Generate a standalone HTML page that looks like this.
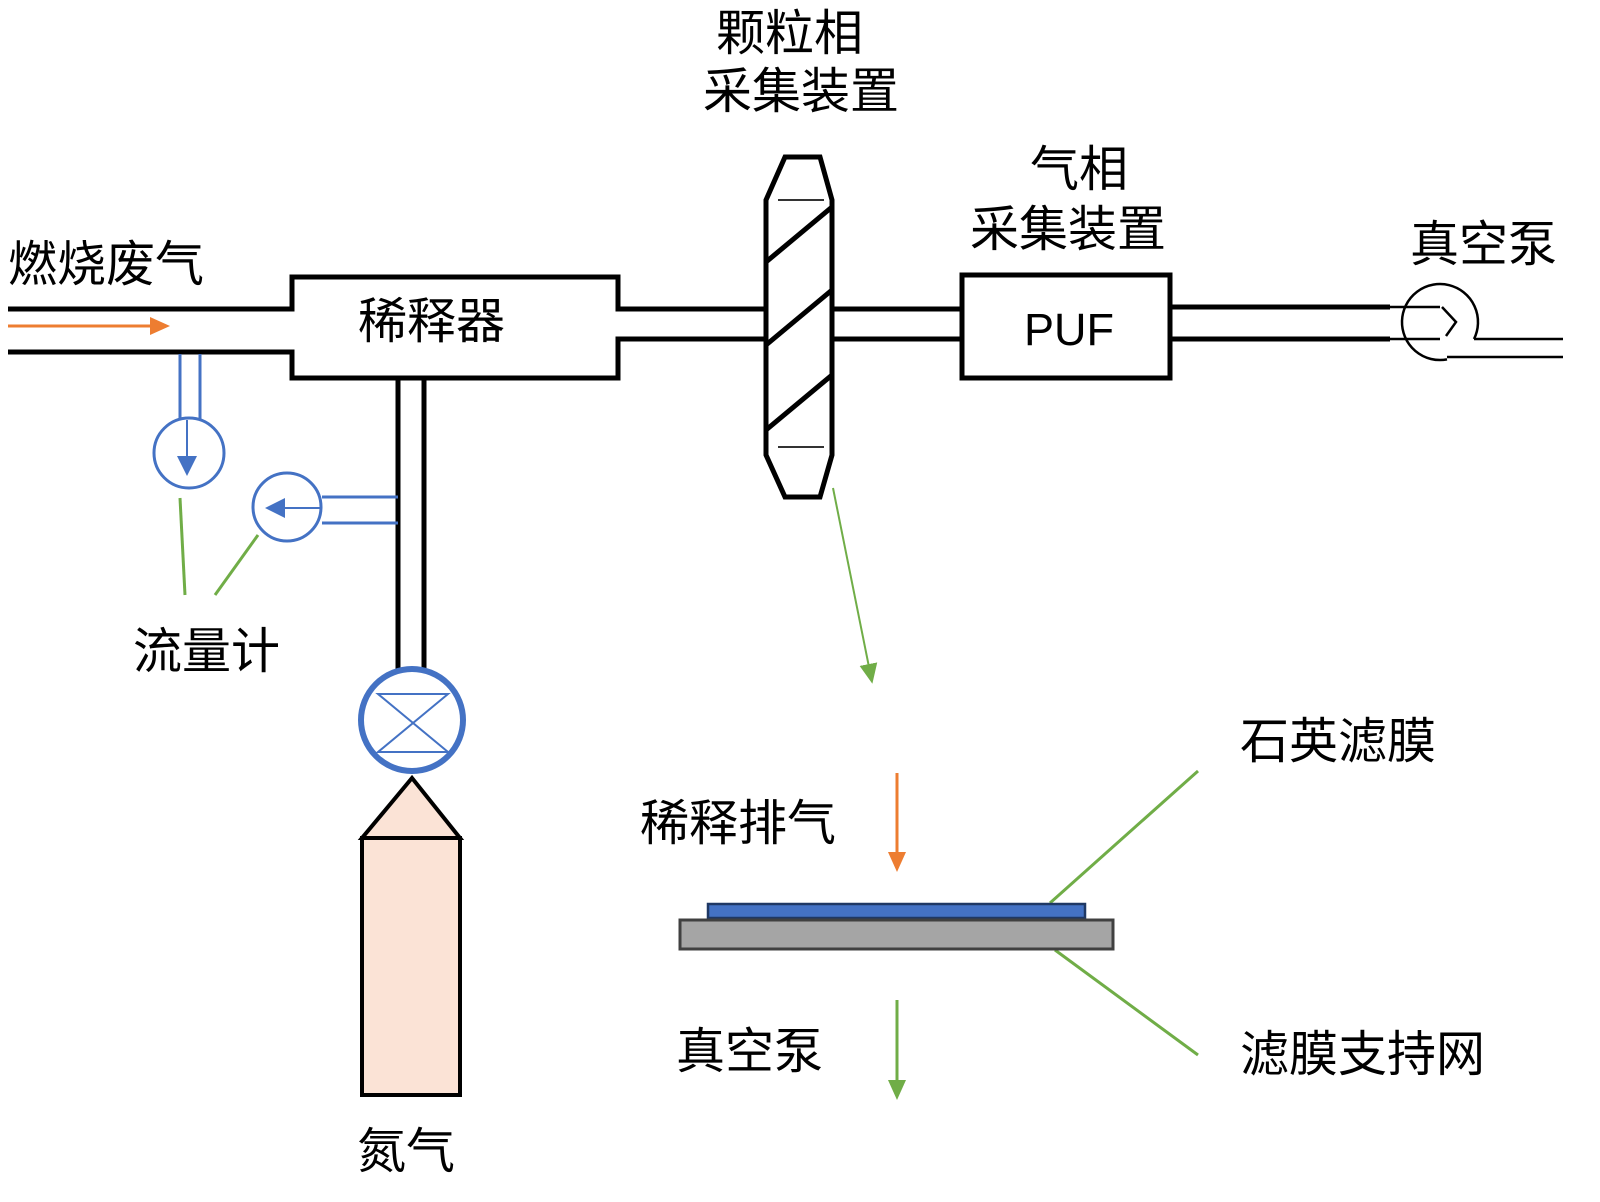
<!DOCTYPE html>
<html><head><meta charset="utf-8"><style>
html,body{margin:0;padding:0;background:#fff;}
svg{display:block}
text{font-family:"Liberation Sans","Noto Sans CJK SC",sans-serif;fill:#000;}
</style></head><body>
<svg width="1600" height="1202" viewBox="0 0 1600 1202" xmlns="http://www.w3.org/2000/svg">
<defs>
<marker id="ao" markerWidth="20" markerHeight="20" refX="8" refY="9" orient="auto" markerUnits="userSpaceOnUse"><path d="M0,0 L20,9 L0,18 Z" fill="#ed7d31"/></marker>
<marker id="ag" markerWidth="20" markerHeight="20" refX="8" refY="9" orient="auto" markerUnits="userSpaceOnUse"><path d="M0,0 L20,9 L0,18 Z" fill="#70ad47"/></marker>
</defs>
<g stroke="#000" stroke-width="5" fill="none">
<path d="M8,309 H292 V277 H618 V309 H765"/>
<path d="M8,352 H292 V378 H618 V339 H765"/>
<path d="M832,309 H962 M832,339 H962"/>
<rect x="962" y="275" width="208" height="103"/>
<path d="M1170,307 H1390 M1170,339 H1390"/>
<path d="M398,380 V672 M424,380 V672"/>
<path d="M785,157 H820 L832,200 V455 L820,497 H785 L766,455 V200 Z"/>
<path d="M766,262 L832,207 M766,345 L832,290 M766,430 L832,375"/>
</g>
<path d="M778,200 H824 M778,447 H824" stroke="#333" stroke-width="2"/>
<!-- pump -->
<g stroke="#000" stroke-width="2.5" fill="none">
<path d="M1390,307 H1440 M1390,339 H1440"/>
<path d="M1442,307 L1456,322 L1446,336"/>
<path d="M1474,339 A38,38 0 1 0 1447,359.4"/>
<path d="M1474,339 H1563 M1447,357 H1563"/>
</g>
<line x1="8" y1="326" x2="158" y2="326" stroke="#ed7d31" stroke-width="3" marker-end="url(#ao)"/>
<!-- flowmeters -->
<g stroke="#4472c4" stroke-width="3" fill="none">
<path d="M180,354 V420 M200,354 V420"/>
<ellipse cx="189" cy="453" rx="35" ry="35"/>
<path d="M322,497 H398 M322,523 H398"/>
<ellipse cx="287" cy="507" rx="34" ry="34"/>
</g>
<line x1="187" y1="420" x2="187" y2="462" stroke="#4472c4" stroke-width="2"/>
<path d="M177,456 L197,456 L187,476 Z" fill="#4472c4"/>
<line x1="322" y1="508" x2="282" y2="508" stroke="#4472c4" stroke-width="2"/>
<path d="M285,498 L285,518 L265,508 Z" fill="#4472c4"/>
<!-- valve -->
<circle cx="412" cy="720" r="51" fill="#fff" stroke="#4472c4" stroke-width="6"/>
<path d="M378,694 H448 L378,752 H448 Z" fill="none" stroke="#4472c4" stroke-width="2"/>
<!-- cylinder -->
<path d="M412,778 L362,838 H460 Z" fill="#fbe3d6" stroke="#000" stroke-width="4"/>
<rect x="362" y="838" width="98" height="257" fill="#fbe3d6" stroke="#000" stroke-width="4"/>
<g stroke="#70ad47" stroke-width="3">
<line x1="180" y1="498" x2="185" y2="595"/>
<line x1="258" y1="535" x2="215" y2="595"/>
<line x1="1050" y1="903" x2="1198" y2="771"/>
<line x1="1055" y1="950" x2="1198" y2="1055"/>
</g>
<line x1="833" y1="488" x2="870" y2="672" stroke="#70ad47" stroke-width="2" marker-end="url(#ag)"/>
<line x1="897" y1="773" x2="897" y2="860" stroke="#ed7d31" stroke-width="3" marker-end="url(#ao)"/>
<line x1="897" y1="1000" x2="897" y2="1088" stroke="#70ad47" stroke-width="3" marker-end="url(#ag)"/>
<rect x="708" y="904" width="377" height="14" fill="#4472c4" stroke="#1f3864" stroke-width="2.5"/>
<rect x="680" y="920" width="433" height="29" fill="#a5a5a5" stroke="#404040" stroke-width="3"/>
<g font-size="49">
<text x="8" y="281">燃烧废气</text>
<text x="358" y="338">稀释器</text>
<text x="716" y="50">颗粒相</text>
<text x="703" y="108">采集装置</text>
<text x="1030" y="186">气相</text>
<text x="970" y="246">采集装置</text>
<text x="1410" y="261">真空泵</text>
<text x="133" y="668">流量计</text>
<text x="1240" y="758">石英滤膜</text>
<text x="640" y="840">稀释排气</text>
<text x="676" y="1068">真空泵</text>
<text x="1240" y="1071">滤膜支持网</text>
<text x="357" y="1168">氮气</text>
</g>
<text x="1024" y="345" font-size="45">PUF</text>
</svg>
</body></html>
